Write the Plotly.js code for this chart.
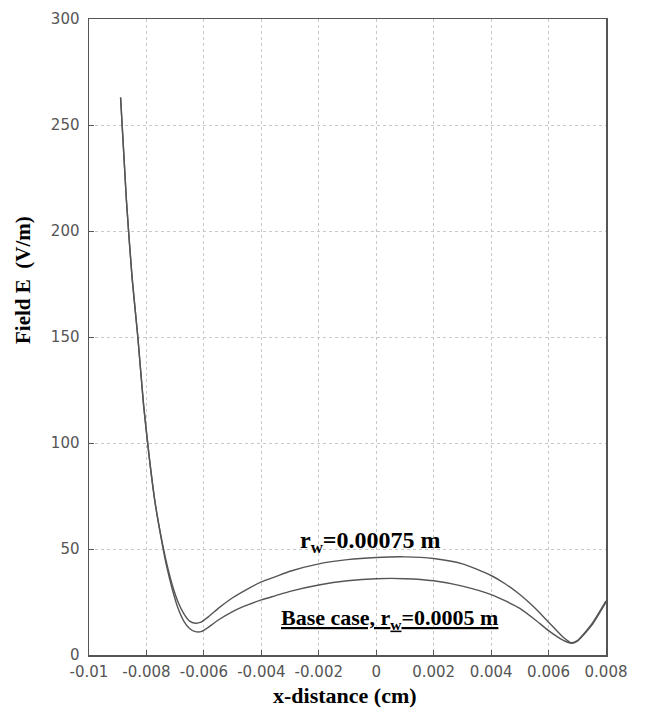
<!DOCTYPE html>
<html>
<head>
<meta charset="utf-8">
<script src="https://cdn.plot.ly/plotly-3.0.1.min.js"></script>
<style>html,body{margin:0;padding:0;background:#fff;}#chart{width:647px;height:708px;}</style>
</head>
<body>
<div id="chart"></div>
<script>
// Base case, r_w = 0.0005 m
const xBase = [-0.0089,-0.0087,-0.0085,-0.0083,-0.0081,-0.0079,-0.0077,-0.0075,-0.0073,-0.0071,-0.0069,-0.0067,-0.0065,-0.0063,-0.0061,-0.0058,-0.0055,-0.005,-0.0045,-0.004,-0.0035,-0.003,-0.002,-0.001,0,0.001,0.002,0.003,0.004,0.0045,0.005,0.0055,0.006,0.0065,0.0068,0.007,0.0075,0.008];
const yBase = [263,215,178,150,118,93,72,56,42,31,22,16,12.5,11,11,13.5,16.5,20.5,23.5,26,28,30,33,35,36,36,35,32.5,28.5,25.5,22,17,11.5,7,5.5,6.5,14,25];
// r_w = 0.00075 m
const xWide = [-0.0089,-0.0087,-0.0085,-0.0083,-0.0081,-0.0079,-0.0077,-0.0075,-0.0073,-0.0071,-0.0069,-0.0067,-0.0065,-0.0063,-0.0061,-0.0058,-0.0055,-0.005,-0.0045,-0.004,-0.0035,-0.003,-0.002,-0.001,0,0.001,0.002,0.003,0.004,0.0045,0.005,0.0055,0.006,0.0065,0.0068,0.007,0.0075,0.008];
const yWide = [263,215,178,150,118,93,72,56.5,43.5,33,25,19.5,16,15,15.5,18.5,22,27,31,34.5,37,39.5,43,45,46,46.3,45.5,43,37.5,33.5,28.5,22.5,15.5,8.5,5.8,6.8,14.5,25.5];
const xTickVals = [-0.01,-0.008,-0.006,-0.004,-0.002,0,0.002,0.004,0.006,0.008];
const xTickText = ["-0.01","-0.008","-0.006","-0.004","-0.002","0","0.002","0.004","0.006","0.008"];
const yTickVals = [0,50,100,150,200,250,300];
const labelWide = "r<sub>w</sub>=0.00075 m";
const labelBase = "<u>Base case, r<sub>w</sub>=0.0005 m</u>";
const xTitle = "x-distance (cm)";
const yTitle = "Field E  (V/m)";

const lineStyle = {color:'#555', width:1.4, shape:'spline', smoothing:0.6};
const traces = [
  {x:xBase, y:yBase, mode:'lines', line:lineStyle, hoverinfo:'skip'},
  {x:xWide, y:yWide, mode:'lines', line:lineStyle, hoverinfo:'skip'}
];

const serif = '"Liberation Serif", "Times New Roman", serif';
const tickFont = {family:'"DejaVu Sans", sans-serif', size:15, color:'#555'};

const layout = {
  width:647, height:708,
  margin:{l:89, r:41, t:19, b:53},
  paper_bgcolor:'#fff', plot_bgcolor:'#fff',
  showlegend:false,
  xaxis:{
    range:[-0.01,0.008], tickvals:xTickVals, ticktext:xTickText,
    showline:true, mirror:true, linecolor:'#555', linewidth:1.5,
    ticks:'inside', ticklen:5, tickcolor:'#555',
    showgrid:true, gridcolor:'#c8c8c8', griddash:'dot', gridwidth:1,
    zeroline:false, tickfont:tickFont, ticklabelstandoff:2
  },
  yaxis:{
    range:[0,300], tickvals:yTickVals,
    showline:true, mirror:true, linecolor:'#555', linewidth:1.5,
    ticks:'inside', ticklen:5, tickcolor:'#555',
    showgrid:true, gridcolor:'#c8c8c8', griddash:'dot', gridwidth:1,
    zeroline:false, tickfont:tickFont, ticklabelstandoff:5
  },
  annotations:[
    {x:-0.000215, y:53.2, xref:'x', yref:'y', text:'<b>'+labelWide+'</b>', showarrow:false,
     font:{family:serif, size:24, color:'#000'}},
    {x:0.000465, y:17, xref:'x', yref:'y', text:'<b>'+labelBase+'</b>', showarrow:false,
     font:{family:serif, size:22, color:'#000'}},
    {x:0.495, y:-0.0635, xref:'paper', yref:'paper', text:'<b>'+xTitle+'</b>', showarrow:false,
     xanchor:'center', yanchor:'middle', font:{family:serif, size:22, color:'#000'}},
    {x:-0.1277, y:0.5896, xref:'paper', yref:'paper', text:'<b>'+yTitle+'</b>', showarrow:false,
     textangle:-90, xanchor:'center', yanchor:'middle', font:{family:serif, size:21, color:'#000'}}
  ]
};
Plotly.newPlot('chart', traces, layout, {staticPlot:true, displayModeBar:false});
</script>
</body>
</html>
